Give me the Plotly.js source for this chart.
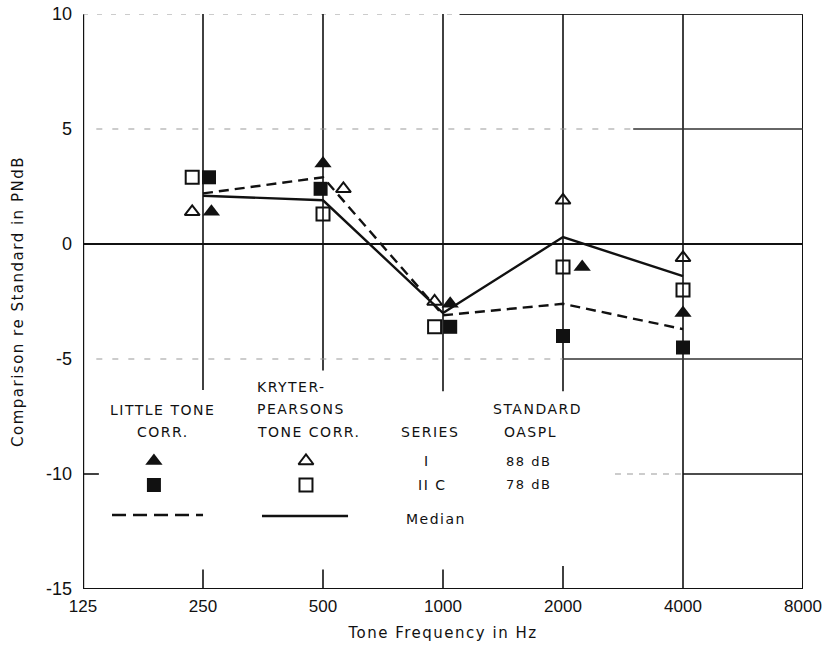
<!DOCTYPE html>
<html>
<head>
<meta charset="utf-8">
<script src="https://cdn.plot.ly/plotly-3.0.1.min.js"></script>
<style>
  html, body { margin: 0; padding: 0; background: #fff; }
  .annotation-text { letter-spacing: 1.5px; }
  .xtitle, .ytitle { letter-spacing: 1.5px; }
</style>
</head>
<body>
<div id="chart" style="width:823px;height:646px;"></div>
<script>
// Tone frequencies (Hz) and axis ticks
const frequencies = [250, 500, 1000, 2000, 4000];
const frequencyTicks = [125, 250, 500, 1000, 2000, 4000, 8000];
const frequencyTickText = ['125', '250', '500', '1000', '2000', '4000', '8000'];
const levelTicks = [-15, -10, -5, 0, 5, 10];
const levelTickText = ['-15', '-10', '-5', '0', '5', '10'];

// Comparison re standard (PNdB)
const littleSeriesI = [1.4, 3.5, -2.6, -1.0, -3.0];     // Little tone corr., series I (88 dB)
const littleSeriesIIC = [2.9, 2.4, -3.6, -4.0, -4.5];   // Little tone corr., series II C (78 dB)
const kryterSeriesI = [1.4, 2.4, -2.5, 1.9, -0.6];      // Kryter-Pearsons, series I
const kryterSeriesIIC = [2.9, 1.3, -3.6, -1.0, -2.0];   // Kryter-Pearsons, series II C
const littleMedian = [2.2, 2.9, -3.1, -2.6, -3.7];
const kryterMedian = [2.1, 1.9, -3.0, 0.3, -1.4];

// Sideways nudges (in octaves) so coincident symbols stay readable
const nudgeLittleI = [0.07, 0, 0.06, 0.16, 0];
const nudgeLittleIIC = [0.05, -0.02, 0.06, 0, 0];
const nudgeKryterI = [-0.09, 0.17, -0.07, 0, 0];
const nudgeKryterIIC = [-0.09, 0, -0.07, 0, 0];

const nudged = (freqs, oct) => freqs.map((f, i) => f * Math.pow(2, oct[i]));
const INK = '#111';

function markerTrace(vals, nudge, symbol, size, name) {
  return {
    type: 'scatter', mode: 'markers', name: name,
    x: nudged(frequencies, nudge), y: vals,
    marker: { symbol: symbol, size: size, color: INK, line: { color: INK, width: symbol.endsWith('open') ? 2 : 0 } },
    showlegend: false, hoverinfo: 'x+y'
  };
}

const traces = [
  { type: 'scatter', mode: 'lines', name: 'Median (Little)', x: frequencies, y: littleMedian,
    line: { color: INK, width: 2.4, dash: '10px,6px' }, showlegend: false },
  { type: 'scatter', mode: 'lines', name: 'Median (Kryter-Pearsons)', x: frequencies, y: kryterMedian,
    line: { color: INK, width: 2.4 }, showlegend: false },
  markerTrace(littleSeriesI, nudgeLittleI, 'triangle-up', 15, 'Little I'),
  markerTrace(littleSeriesIIC, nudgeLittleIIC, 'square', 14, 'Little II C'),
  markerTrace(kryterSeriesI, nudgeKryterI, 'triangle-up-open', 13, 'Kryter-Pearsons I'),
  markerTrace(kryterSeriesIIC, nudgeKryterIIC, 'square-open', 13, 'Kryter-Pearsons II C'),
  // key symbols in the in-plot legend (overlay axes spanning 0..1)
  { type: 'scatter', mode: 'markers', xaxis: 'x2', yaxis: 'y2', x: [0.0985], y: [0.2226],
    marker: { symbol: 'triangle-up', size: 15, color: INK }, showlegend: false, hoverinfo: 'skip' },
  { type: 'scatter', mode: 'markers', xaxis: 'x2', yaxis: 'y2', x: [0.0985], y: [0.1809],
    marker: { symbol: 'square', size: 14, color: INK }, showlegend: false, hoverinfo: 'skip' },
  { type: 'scatter', mode: 'markers', xaxis: 'x2', yaxis: 'y2', x: [0.3097], y: [0.2226],
    marker: { symbol: 'triangle-up-open', size: 13, color: INK, line: { width: 2, color: INK } }, showlegend: false, hoverinfo: 'skip' },
  { type: 'scatter', mode: 'markers', xaxis: 'x2', yaxis: 'y2', x: [0.3097], y: [0.1809],
    marker: { symbol: 'square-open', size: 13, color: INK, line: { width: 2, color: INK } }, showlegend: false, hoverinfo: 'skip' }
];

// Frame and grid segments (x in Hz on the log axis)
function hseg(y, f0, f1, width, dash, color) {
  return { type: 'line', xref: 'x', yref: 'y', x0: f0, x1: f1, y0: y, y1: y,
           line: { color: color || INK, width: width, dash: dash || 'solid' }, layer: 'below' };
}
function vseg(f, y0, y1, width) {
  return { type: 'line', xref: 'x', yref: 'y', x0: f, x1: f, y0: y0, y1: y1,
           line: { color: INK, width: width }, layer: 'below' };
}
const FAINT = '#9a9a9a';
const shapes = [
  // outer frame
  vseg(125, -15, 10, 2.4),
  vseg(8000, -15, 10, 2),
  hseg(-15, 125, 8000, 2),
  hseg(10, 125, 1100, 1.2, '5px,9px', FAINT),
  hseg(10, 1100, 8000, 1.8, 'solid', '#333'),
  // vertical frequency lines
  vseg(250, -6.35, 10, 1.6), vseg(250, -15, -14.15, 1.6),
  vseg(500, -5.5, 10, 1.6), vseg(500, -15, -14.15, 1.6),
  vseg(1000, -6.4, 10, 1.6), vseg(1000, -15, -14.15, 1.6),
  vseg(2000, -6.4, 10, 1.6), vseg(2000, -15, -14.0, 1.6),
  vseg(4000, -15, 10, 1.6),
  // horizontal level lines
  hseg(0, 125, 8000, 1.8),
  hseg(5, 135, 3000, 1.2, '6px,10px', FAINT),
  hseg(5, 3000, 8000, 1.4, 'solid', '#333'),
  hseg(-5, 135, 2000, 1.2, '6px,10px', FAINT),
  hseg(-5, 2000, 8000, 1.4, 'solid', '#333'),
  hseg(-10, 125, 137, 1.6),
  hseg(-10, 2700, 4000, 1.2, '6px,6px', FAINT),
  hseg(-10, 4000, 8000, 1.6),
  // median line keys
  { type: 'line', xref: 'paper', yref: 'paper', x0: 0.0403, x1: 0.1667, y0: 0.1287, y1: 0.1287,
    line: { color: INK, width: 2.4, dash: '14px,7px' } },
  { type: 'line', xref: 'paper', yref: 'paper', x0: 0.2486, x1: 0.3681, y0: 0.127, y1: 0.127,
    line: { color: INK, width: 2.4 } }
];

const legendFont = { family: 'DejaVu Sans', size: 14, color: INK };
function note(text, x, y, xanchor, size) {
  return { text: text, xref: 'paper', yref: 'paper', x: x, y: y, xanchor: xanchor || 'center',
           yanchor: 'middle', showarrow: false,
           font: Object.assign({}, legendFont, size ? { size: size } : {}) };
}
const annotations = [
  note('LITTLE TONE', 0.1111, 0.3113),
  note('CORR.', 0.1111, 0.273),
  note('KRYTER-', 0.2389, 0.3513, 'left'),
  note('PEARSONS', 0.2389, 0.313, 'left'),
  note('TONE CORR.', 0.2389, 0.273, 'left'),
  note('SERIES', 0.4819, 0.273),
  note('STANDARD', 0.6319, 0.313),
  note('OASPL', 0.6222, 0.273),
  note('I', 0.4778, 0.2226),
  note('II C', 0.4847, 0.1809),
  note('88 dB', 0.6194, 0.2226, 'center', 13),
  note('78 dB', 0.6194, 0.1809, 'center', 13),
  note('Median', 0.4903, 0.1217)
];

const layout = {
  width: 823, height: 646,
  margin: { l: 83, r: 20, t: 14, b: 57 },
  paper_bgcolor: '#fff', plot_bgcolor: '#fff',
  showlegend: false,
  xaxis: {
    type: 'log', range: [Math.log10(125), Math.log10(8000)],
    tickmode: 'array', tickvals: frequencyTicks, ticktext: frequencyTickText,
    showgrid: false, zeroline: false, showline: false, ticks: '',
    ticklabelstandoff: 5, ticklabeloverflow: 'allow',
    tickfont: { family: 'Liberation Sans', size: 17, color: INK },
    title: { text: 'Tone Frequency in Hz', standoff: 12,
             font: { family: 'DejaVu Sans', size: 15, color: INK } }
  },
  yaxis: {
    range: [-15, 10],
    tickmode: 'array', tickvals: levelTicks, ticktext: levelTickText,
    showgrid: false, zeroline: false, showline: false, ticks: '',
    ticklabelstandoff: 10, ticklabeloverflow: 'allow',
    tickfont: { family: 'Liberation Sans', size: 18, color: INK },
    title: { text: 'Comparison re Standard in PNdB', standoff: 18,
             font: { family: 'DejaVu Sans', size: 15, color: INK } }
  },
  xaxis2: { overlaying: 'x', range: [0, 1], visible: false, fixedrange: true },
  yaxis2: { overlaying: 'y', range: [0, 1], visible: false, fixedrange: true },
  shapes: shapes,
  annotations: annotations
};

Plotly.newPlot('chart', traces, layout, { displayModeBar: false, staticPlot: true });
</script>
</body>
</html>
